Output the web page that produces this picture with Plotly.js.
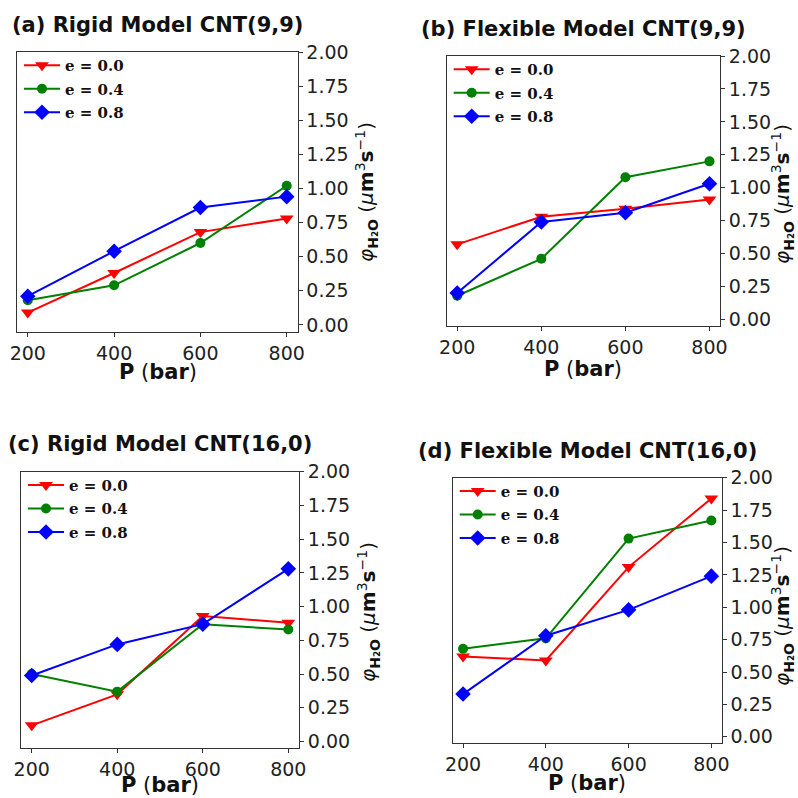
<!DOCTYPE html>
<html>
<head>
<meta charset="utf-8">
<script src="https://cdn.plot.ly/plotly-3.0.1.min.js"></script>
<style>html,body{margin:0;padding:0;background:#fff;}#chart{width:798px;height:798px;}</style>
</head>
<body>
<div id="chart"></div>
<script>
// ---- data ----
const pressure = [200, 400, 600, 800];
const seriesNames = ['e = 0.0', 'e = 0.4', 'e = 0.8'];
const panelTitles = ['(a) Rigid Model CNT(9,9)', '(b) Flexible Model CNT(9,9)',
                     '(c) Rigid Model CNT(16,0)', '(d) Flexible Model CNT(16,0)'];
const xTitleText = '<b>P</b> (<b>bar</b>)';
const yTitleText = '<i>φ</i><sub><b>H₂O</b></sub> (<i>μ</i><b>m</b><sup>3</sup><b>s</b><sup>−1</sup>)';
// (a) Rigid CNT(9,9)
const rigid99_e00 = [0.09, 0.38, 0.68, 0.78];
const rigid99_e04 = [0.18, 0.29, 0.60, 1.02];
const rigid99_e08 = [0.21, 0.54, 0.86, 0.94];
// (b) Flexible CNT(9,9)
const flex99_e00 = [0.57, 0.78, 0.84, 0.91];
const flex99_e04 = [0.18, 0.46, 1.08, 1.20];
const flex99_e08 = [0.20, 0.74, 0.81, 1.03];
// (c) Rigid CNT(16,0)
const rigid160_e00 = [0.12, 0.35, 0.93, 0.88];
const rigid160_e04 = [0.50, 0.37, 0.87, 0.83];
const rigid160_e08 = [0.49, 0.72, 0.87, 1.28];
// (d) Flexible CNT(16,0)
const flex160_e00 = [0.62, 0.59, 1.31, 1.84];
const flex160_e04 = [0.68, 0.76, 1.53, 1.67];
const flex160_e08 = [0.33, 0.78, 0.98, 1.24];
const yTickVals = [0, 0.25, 0.5, 0.75, 1.0, 1.25, 1.5, 1.75, 2.0];
const xTickVals = [200, 400, 600, 800];

const panels = [
  [rigid99_e00, rigid99_e04, rigid99_e08],
  [flex99_e00, flex99_e04, flex99_e08],
  [rigid160_e00, rigid160_e04, rigid160_e08],
  [flex160_e00, flex160_e04, flex160_e08]
];

// ---- styles ----
const colors = ['#ff0000', '#008000', '#0000ff'];
const symbols = ['triangle-down', 'circle', 'diamond'];
const msizes = [12, 10, 12];
// panel boxes in pixels: [left, right, top, bottom]
const boxes = [
  [17, 297.5, 52, 331.7],
  [446.7, 720, 56, 326],
  [21, 299, 471.7, 748.3],
  [452.7, 721.7, 477.7, 743.3]
];
const titleY = [25, 29, 444, 451];
const xTitlePos = [[158, 372], [583, 369], [160, 785], [587, 783]];
const yTitlePos = [[366, 192], [782, 194], [368, 612], [782, 616]];
const W = 798, H = 798;

const traces = [];
const layout = {
  width: W, height: H,
  margin: {l: 0, r: 0, t: 0, b: 0},
  paper_bgcolor: '#fff', plot_bgcolor: '#fff',
  showlegend: true,
  annotations: []
};

const tickFont = {family: 'DejaVu Sans', size: 19, color: '#222'};

function ann(text, px, py, size, angle) {
  return {
    text: text, xref: 'paper', yref: 'paper', x: px / W, y: (H - py) / H,
    xanchor: 'center', yanchor: 'middle', showarrow: false, textangle: angle || 0,
    font: {family: 'DejaVu Sans', size: size, color: '#111'}
  };
}

panels.forEach((series, p) => {
  const k = p + 1;
  const xa = k === 1 ? 'x' : 'x' + k;
  const ya = k === 1 ? 'y' : 'y' + k;
  const lg = k === 1 ? 'legend' : 'legend' + k;
  series.forEach((vals, s) => {
    traces.push({
      x: pressure, y: vals, xaxis: xa, yaxis: ya,
      type: 'scatter', mode: 'lines+markers',
      name: seriesNames[s], legend: lg, legendgroup: 'g' + p + s,
      line: {color: colors[s], width: 2},
      marker: {color: colors[s], symbol: symbols[s], size: msizes[s]}
    });
  });
  const b = boxes[p];
  const xd = [b[0] / W, b[1] / W];
  const yd = [(H - b[3]) / H, (H - b[2]) / H];
  layout['xaxis' + (k === 1 ? '' : k)] = {
    domain: xd, anchor: ya, range: [175, 825],
    tickvals: xTickVals, ticks: 'outside', ticklen: 4, tickwidth: 1, tickcolor: '#333',
    showline: true, mirror: true, linecolor: '#333', linewidth: 1,
    showgrid: false, zeroline: false, tickfont: tickFont
  };
  layout['yaxis' + (k === 1 ? '' : k)] = {
    domain: yd, anchor: xa, side: 'right', range: [-0.05, 2.0],
    tickvals: yTickVals, tickformat: '.2f', ticks: 'outside', ticklen: 4, tickwidth: 1, tickcolor: '#333',
    showline: true, mirror: true, linecolor: '#333', linewidth: 1,
    showgrid: false, zeroline: false, tickfont: tickFont
  };
  layout[lg] = {
    x: (b[0] + 2) / W, y: (H - b[2] + 3) / H, xanchor: 'left', yanchor: 'top',
    bgcolor: 'rgba(0,0,0,0)', borderwidth: 0, tracegroupgap: 1,
    font: {family: 'DejaVu Serif', size: 15, color: '#111', weight: 'bold'},
    itemwidth: 36
  };
  layout.annotations.push(ann('<b>' + panelTitles[p] + '</b>', (b[0] + b[1]) / 2, titleY[p], 21));
  layout.annotations.push(ann(xTitleText, xTitlePos[p][0], xTitlePos[p][1], 21));
  layout.annotations.push(ann(yTitleText, yTitlePos[p][0], yTitlePos[p][1], 20, -90));
});

Plotly.newPlot('chart', traces, layout, {displayModeBar: false, staticPlot: true});
</script>
</body>
</html>
